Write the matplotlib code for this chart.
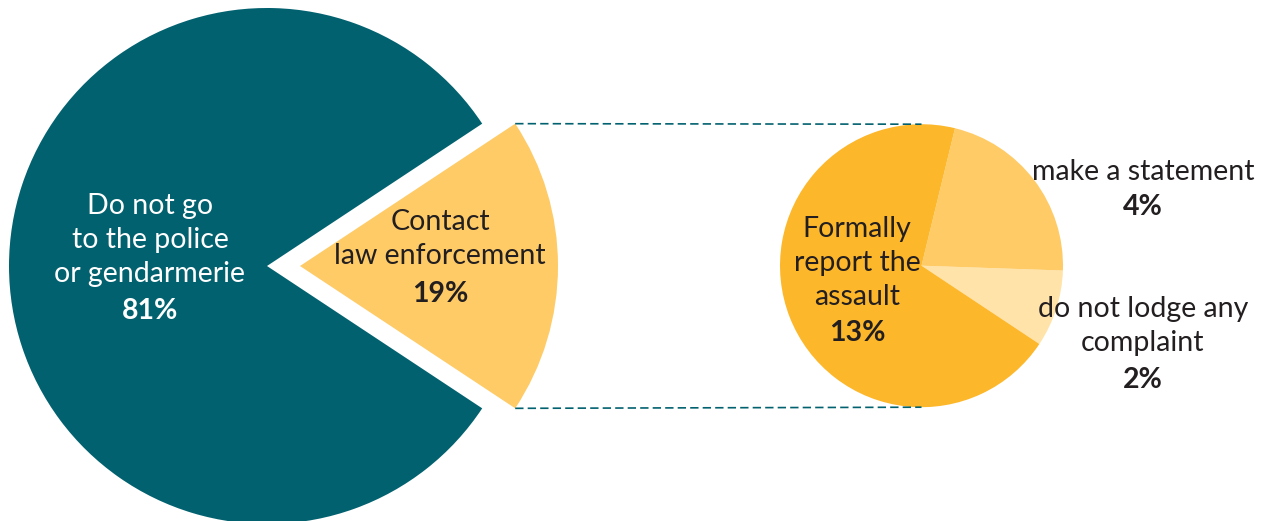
import math
import matplotlib.pyplot as plt

# left pie: share of victims
main_labels = ["Contact\nlaw enforcement", "Do not go\nto the police\nor gendarmerie"]
main_values = [18.6, 81.4]
main_pct = ["19%", "81%"]

# right pie: break-down of "contact law enforcement"
sub_labels = ["do not lodge any\ncomplaint", "make a statement", "Formally\nreport the\nassault"]
sub_values = [1.67, 4.13, 13.2]
sub_pct = ["2%", "4%", "13%"]

teal = "#02616f"
yellow = "#fecb67"
sub_colors = ["#ffe3a8", "#fecb67", "#fdb72b"]
dark = "#231f20"

plt.rcParams["font.family"] = ["Lato", "DejaVu Sans"]

fig = plt.figure(figsize=(12.68, 5.21), dpi=100)
ax = fig.add_axes([0, 0, 1, 1])

# big pie
c1 = (267, 255)
r1 = 258
expl = 33
start1 = -main_values[0] / sum(main_values) * 360 / 2
ax.pie(main_values, colors=[yellow, teal], startangle=start1, center=c1, radius=r1,
       explode=[expl, 0], frame=True, wedgeprops=dict(linewidth=0))

# small pie
c2 = (921.5, 255.3)
r2 = 141.5
ax.pie(sub_values, colors=sub_colors, startangle=-33.6, center=c2, radius=r2,
       frame=True, wedgeprops=dict(linewidth=0))

ax.set_xlim(0, 1268)
ax.set_ylim(0, 521)
ax.set_aspect("equal")
ax.axis("off")

# dashed connectors from the exploded wedge corners to top / bottom of small pie
half = math.radians(-start1)
for s in (1, -1):
    x0 = c1[0] + expl + r1 * math.cos(half)
    y0 = c1[1] + s * r1 * math.sin(half)
    ax.plot([x0, c2[0]], [y0, c2[1] + s * r2], color=teal, linewidth=1.2,
            linestyle=(0, (5, 2.5)))

fs = 20.5
ls = 1.36


def label(x, y_text, y_pct, text, pct, color):
    ax.text(x, y_text, text, color=color, fontsize=fs, ha="center", va="center",
            linespacing=ls)
    ax.text(x, y_pct, pct, color=color, fontsize=fs, ha="center", va="center",
            fontweight="bold")


label(150, 281, 210, main_labels[1], main_pct[1], "white")
label(440, 282, 227, main_labels[0], main_pct[0], dark)
label(857, 258, 188, sub_labels[2], sub_pct[2], dark)
label(1143, 349, 314, sub_labels[1], sub_pct[1], dark)
label(1143, 195, 141, sub_labels[0], sub_pct[0], dark)

fig.savefig("out.png", dpi=100, facecolor="white")
